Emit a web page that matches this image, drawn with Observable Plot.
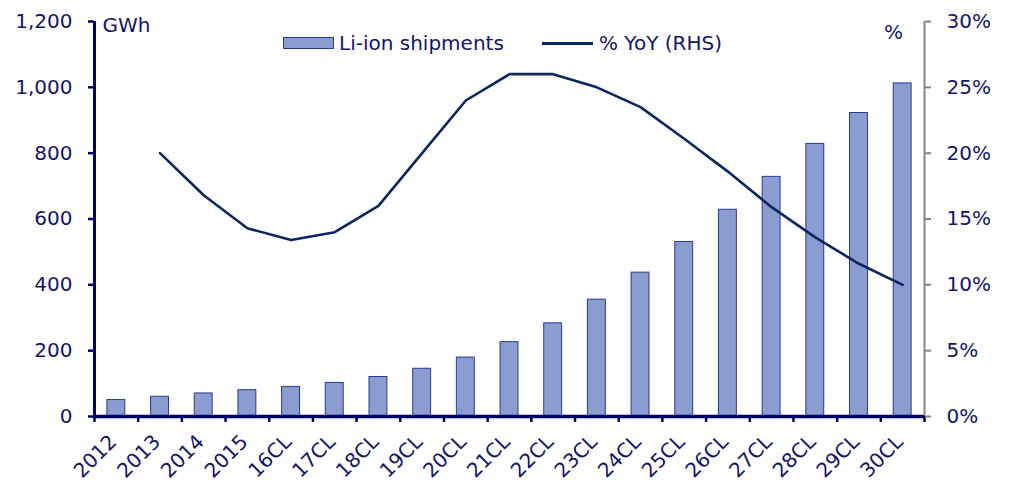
<!DOCTYPE html>
<html>
<head>
<meta charset="utf-8">
<script src="https://cdn.jsdelivr.net/npm/d3@7"></script>
<script src="https://cdn.jsdelivr.net/npm/@observablehq/plot@0.6"></script>
<style>
  body { margin: 0; background: white; }
  #wrap { position: relative; width: 1010px; height: 486px; font-family: "DejaVu Sans", Verdana, sans-serif; color: #14146b; }
  .leg { position: absolute; font-size: 20px; line-height: 20px; display: flex; align-items: center; white-space: nowrap; }
  .sw-bar { width: 49px; height: 10px; background: #8b9dd0; border: 1px solid #2b3a91; margin-right: 5px; }
  .sw-line { width: 51px; height: 3px; background: #0b2560; margin-right: 6px; }
</style>
</head>
<body>
<div id="wrap"></div>
<script>
const categories = ["2012","2013","2014","2015","16CL","17CL","18CL","19CL","20CL","21CL","22CL","23CL","24CL","25CL","26CL","27CL","28CL","29CL","30CL"];
const shipmentsGWh = [50, 60, 70, 80, 90, 102, 120, 145, 179, 226, 283, 355, 437, 530, 628, 728, 828, 922, 1012];
const yoyPct = [null, 20.0, 16.8, 14.3, 13.4, 14.0, 16.0, 20.0, 24.0, 26.0, 26.0, 25.0, 23.5, 21.1, 18.6, 15.9, 13.6, 11.6, 10.0];
const leftTicks = [0, 200, 400, 600, 800, 1000, 1200];
const rightTicksPct = [0, 5, 10, 15, 20, 25, 30];

const navy = "#14146b";
const W = 1010, H = 486, mL = 94, mR = 86, mT = 21, mB = 70;
const step = (W - mL - mR) / categories.length;
const ratio = 1200 / 30; // left units per percent

const bars = categories.map((c, i) => ({cat: c, gwh: shipmentsGWh[i]}));
const line = categories.map((c, i) => ({cat: c, yoy: yoyPct[i]})).filter(d => d.yoy != null);

const chart = Plot.plot({
  width: W, height: H,
  marginLeft: mL, marginRight: mR, marginTop: mT, marginBottom: mB,
  style: {fontFamily: "'DejaVu Sans', Verdana, sans-serif", fontSize: "20px", color: navy, background: "white", overflow: "visible"},
  x: {domain: categories, paddingInner: 0.59, paddingOuter: 0.295, round: false, label: null},
  y: {domain: [0, 1200], label: null},
  marks: [
    Plot.barY(bars, {x: "cat", y: "gwh", fill: "#8b9dd0", stroke: "#2b3a91", strokeWidth: 1}),
    Plot.lineY(line, {x: "cat", y: d => d.yoy * ratio, stroke: "#0b2560", strokeWidth: 2.6}),
    // axis lines
    Plot.ruleX([categories[0]], {dx: -step / 2, y1: 0, y2: 1200, stroke: "#000066", strokeWidth: 3}),
    Plot.ruleX([categories[categories.length - 1]], {dx: step / 2, y1: 0, y2: 1200, stroke: "#858585", strokeWidth: 2}),
    Plot.ruleX(categories, {dx: -step / 2, y1: 0, y2: -18, stroke: "#000066", strokeWidth: 2.5}),
    Plot.ruleX([categories[categories.length - 1]], {dx: step / 2, y1: 0, y2: -18, stroke: "#000066", strokeWidth: 2.5}),
    Plot.ruleY([0], {stroke: "#000066", strokeWidth: 3.5}),
    // axes
    Plot.axisY({ticks: leftTicks, tickSize: 6, tickPadding: 16, tickFormat: d3.format(","), stroke: "#000066", strokeWidth: 2.5, fill: navy, label: null}),
    Plot.axisY({anchor: "right", ticks: rightTicksPct.map(p => p * ratio), tickSize: 6, tickPadding: 16, tickFormat: d => Math.round(d / ratio) + "%", stroke: "#858585", strokeWidth: 2, fill: navy, label: null}),
    Plot.axisX({tickSize: 0, tickRotate: -45, tickPadding: 22, dx: -3, fill: navy, label: null}),
    Plot.text(["GWh"], {frameAnchor: "top-left", dx: 8, dy: 4, lineAnchor: "middle", textAnchor: "start", fill: navy}),
    Plot.text(["%"], {frameAnchor: "top-right", dx: -31, dy: 11, lineAnchor: "middle", textAnchor: "middle", fill: navy})
  ]
});

const wrap = document.getElementById("wrap");
wrap.appendChild(chart);

const leg1 = document.createElement("div");
leg1.className = "leg";
leg1.style.left = "283px"; leg1.style.top = "33px";
leg1.innerHTML = '<span class="sw-bar"></span><span>Li-ion shipments</span>';
wrap.appendChild(leg1);

const leg2 = document.createElement("div");
leg2.className = "leg";
leg2.style.left = "542px"; leg2.style.top = "33px";
leg2.innerHTML = '<span class="sw-line"></span><span>% YoY (RHS)</span>';
wrap.appendChild(leg2);
</script>
</body>
</html>
